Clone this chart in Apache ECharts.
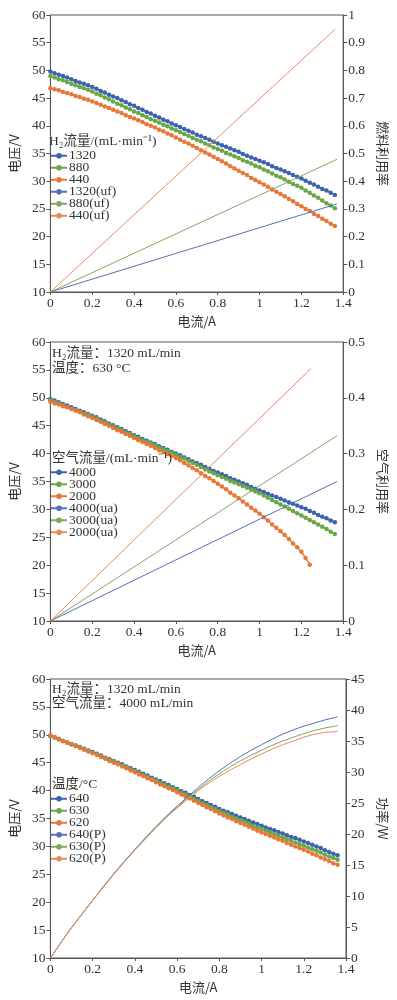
<!DOCTYPE html>
<html><head><meta charset="utf-8">
<script src="https://cdn.jsdelivr.net/npm/echarts@6/dist/echarts.min.js"></script>
<style>html,body{margin:0;padding:0;background:#fff}#c{width:397px;height:1000px}</style>
</head><body><div id="c"></div>
<script>
// currents (A) for measured voltage curves
const currents = [0,0.02,0.04,0.06,0.08,0.1,0.12,0.14,0.16,0.18,0.2,0.22,0.24,0.26,0.28,0.3,0.32,0.34,0.36,0.38,0.4,0.42,0.44,0.46,0.48,0.5,0.52,0.54,0.56,0.58,0.6,0.62,0.64,0.66,0.68,0.7,0.72,0.74,0.76,0.78,0.8,0.82,0.84,0.86,0.88,0.9,0.92,0.94,0.96,0.98,1.0,1.02,1.04,1.06,1.08,1.1,1.12,1.14,1.16,1.18,1.2,1.22,1.24,1.26,1.28,1.3,1.32,1.34,1.36];
// Panel 1: H2 flow
const v1320 = [49.8,49.5,49.2,49.0,48.7,48.4,48.1,47.8,47.6,47.3,47.0,46.7,46.3,46.0,45.6,45.3,45.0,44.6,44.3,43.9,43.6,43.2,42.9,42.5,42.2,41.8,41.5,41.1,40.8,40.4,40.1,39.8,39.4,39.1,38.8,38.4,38.1,37.8,37.5,37.1,36.8,36.5,36.2,35.9,35.6,35.3,34.9,34.6,34.3,34.0,33.7,33.4,33.1,32.7,32.4,32.1,31.8,31.5,31.1,30.8,30.5,30.1,29.7,29.4,29.0,28.6,28.3,27.9,27.5];
const v880 = [49.0,48.7,48.4,48.2,47.9,47.6,47.3,47.0,46.8,46.5,46.2,45.8,45.5,45.1,44.8,44.4,44.0,43.7,43.3,43.0,42.6,42.3,41.9,41.6,41.2,40.9,40.6,40.2,39.9,39.5,39.2,38.9,38.5,38.2,37.8,37.5,37.2,36.8,36.5,36.1,35.8,35.5,35.1,34.8,34.5,34.2,33.8,33.5,33.2,32.8,32.5,32.1,31.8,31.4,31.0,30.7,30.3,29.9,29.5,29.2,28.8,28.3,27.9,27.4,27.0,26.5,26.0,25.6,25.1];
const v440 = [46.8,46.6,46.4,46.1,45.9,45.7,45.4,45.2,44.9,44.7,44.4,44.1,43.8,43.5,43.2,42.9,42.6,42.3,41.9,41.6,41.3,41.0,40.7,40.3,40.0,39.7,39.3,39.0,38.6,38.3,37.9,37.5,37.1,36.8,36.4,36.0,35.6,35.2,34.8,34.4,34.0,33.6,33.2,32.7,32.3,31.9,31.5,31.1,30.6,30.2,29.8,29.4,29.0,28.5,28.1,27.7,27.3,26.8,26.4,25.9,25.5,25.0,24.6,24.1,23.7,23.2,22.8,22.3,21.9];
const ufX = [0, 1.37, 0, 1.37, 0, 1.36];
const uf1320 = [0, 0.318];
const uf880 = [0, 0.479];
const uf440 = [0, 0.948];
// Panel 2: air flow
const v4000 = [49.8,49.5,49.2,48.9,48.6,48.3,48.0,47.7,47.4,47.1,46.8,46.5,46.1,45.8,45.4,45.1,44.7,44.4,44.0,43.7,43.3,43.0,42.6,42.3,42.0,41.7,41.3,41.0,40.7,40.3,40.0,39.7,39.3,39.0,38.6,38.3,38.0,37.6,37.3,36.9,36.6,36.3,36.0,35.6,35.3,35.0,34.7,34.4,34.0,33.7,33.4,33.1,32.8,32.5,32.2,31.9,31.6,31.3,31.0,30.7,30.4,30.1,29.7,29.4,29.0,28.7,28.4,28.0,27.7];
const v3000 = [49.6,49.3,49.0,48.7,48.4,48.1,47.8,47.5,47.2,46.9,46.6,46.3,45.9,45.6,45.2,44.9,44.5,44.2,43.8,43.5,43.1,42.8,42.4,42.1,41.8,41.5,41.1,40.8,40.5,40.1,39.8,39.4,39.1,38.7,38.3,38.0,37.6,37.2,36.8,36.5,36.1,35.8,35.5,35.1,34.8,34.5,34.2,33.9,33.5,33.2,32.9,32.5,32.1,31.7,31.3,30.9,30.5,30.1,29.7,29.3,28.9,28.5,28.1,27.7,27.3,26.9,26.5,26.0,25.6];
const v2000 = [49.3,49.0,48.8,48.5,48.3,48.0,47.7,47.4,47.0,46.7,46.4,46.0,45.7,45.3,45.0,44.6,44.2,43.9,43.5,43.2,42.8,42.4,42.1,41.7,41.4,41.0,40.6,40.3,39.9,39.6,39.2,38.8,38.3,37.9,37.4,37.0,36.5,36.0,35.6,35.1,34.6,34.1,33.6,33.0,32.5,32.0,31.4,30.9,30.3,29.8,29.2,28.6,28.0,27.3,26.7,26.1,25.4,24.7,23.9,23.2,22.4,21.3,20.1];
const ua4000 = [0, 0.250];
const ua3000 = [0, 0.332];
const ua2000 = [0, 0.452];
const uaEnd = [1.37, 1.37, 1.245];
// Panel 3: temperature
const v640 = [49.8,49.5,49.2,48.9,48.6,48.3,48.1,47.8,47.5,47.2,46.9,46.6,46.3,45.9,45.6,45.3,45.0,44.7,44.3,44.0,43.7,43.4,43.0,42.7,42.3,42.0,41.7,41.3,41.0,40.6,40.3,39.9,39.6,39.2,38.9,38.5,38.1,37.8,37.4,37.1,36.7,36.4,36.1,35.8,35.5,35.2,34.9,34.6,34.3,34.0,33.7,33.4,33.1,32.9,32.6,32.3,32.0,31.7,31.5,31.2,30.9,30.6,30.3,30.0,29.7,29.3,29.0,28.7,28.4];
const v630 = [49.8,49.5,49.2,48.9,48.6,48.3,48.0,47.7,47.4,47.1,46.8,46.5,46.1,45.8,45.5,45.2,44.8,44.5,44.2,43.8,43.5,43.2,42.8,42.5,42.1,41.8,41.4,41.1,40.7,40.4,40.0,39.6,39.3,38.9,38.5,38.2,37.8,37.4,37.0,36.7,36.3,36.0,35.7,35.3,35.0,34.7,34.4,34.1,33.7,33.4,33.1,32.8,32.5,32.2,31.9,31.6,31.3,31.0,30.7,30.4,30.1,29.8,29.5,29.2,28.9,28.5,28.2,27.9,27.6];
const v620 = [49.9,49.6,49.3,48.9,48.6,48.3,48.0,47.7,47.3,47.0,46.7,46.4,46.0,45.7,45.3,45.0,44.7,44.3,44.0,43.6,43.3,42.9,42.6,42.2,41.9,41.5,41.1,40.8,40.4,40.1,39.7,39.3,38.9,38.6,38.2,37.8,37.4,37.0,36.7,36.3,35.9,35.6,35.2,34.9,34.5,34.2,33.9,33.5,33.2,32.8,32.5,32.2,31.9,31.6,31.3,31.0,30.6,30.3,30.0,29.7,29.4,29.1,28.7,28.4,28.0,27.7,27.4,27.0,26.7];
const currentsP = [0,0.05,0.1,0.15,0.2,0.25,0.3,0.35,0.4,0.45,0.5,0.55,0.6,0.65,0.7,0.75,0.8,0.85,0.9,0.95,1.0,1.05,1.1,1.15,1.2,1.25,1.3,1.35,1.36];
const p640 = [0,2.5,4.9,7.1,9.3,11.5,13.6,15.6,17.5,19.4,21.2,22.9,24.5,26.0,27.5,28.9,30.2,31.4,32.5,33.5,34.4,35.3,36.1,36.8,37.4,37.9,38.4,38.8,38.9];
const p630 = [0,2.5,4.9,7.1,9.3,11.4,13.5,15.5,17.4,19.3,21.1,22.8,24.3,25.8,27.2,28.5,29.7,30.8,31.8,32.7,33.5,34.3,35.0,35.6,36.2,36.7,37.1,37.4,37.5];
const p620 = [0,2.5,4.9,7.1,9.3,11.4,13.5,15.5,17.4,19.2,21.0,22.7,24.2,25.6,27.0,28.2,29.3,30.3,31.2,32.1,32.9,33.7,34.4,35.0,35.6,36.1,36.4,36.5,36.6];

const BLUE = '#3d63ad', GREEN = '#6aa846', ORANGE = '#e8773a';
const LBLUE = '#5570b5', LGREEN = '#7fa861', LORANGE = '#ea8a55';
const SERIF = '"Liberation Serif","Noto Sans CJK SC",serif';
const CJK = '"Noto Sans CJK SC","Liberation Serif",sans-serif';
const AX = '#555';

const pairs = (xs, ys) => ys.map((y, i) => [xs[i], y]);

const grids = [
  {left: 45, top: 15, width: 303, height: 277},
  {left: 45, top: 342, width: 305, height: 279},
  {left: 45, top: 679, width: 305, height: 279}
].map(g => Object.assign(g, {show: true, borderColor: AX, borderWidth: 1, backgroundColor: 'transparent'}));

function xAx(i) {
  return {type: 'value', gridIndex: i, min: 0, max: 1.4, interval: 0.2,
    name: '电流/A', nameLocation: 'middle', nameGap: 23,
    nameTextStyle: {fontFamily: CJK, fontSize: 13, color: '#333'},
    axisLine: {show: true, onZero: false, lineStyle: {color: AX}},
    axisTick: {show: true, inside: false, length: 3, lineStyle: {color: AX}},
    axisLabel: {fontFamily: SERIF, fontSize: 13.5, color: '#333', margin: 5},
    splitLine: {show: false}};
}
function yLeft(i) {
  return {type: 'value', gridIndex: i, min: 10, max: 60, interval: 5, position: 'left',
    name: '电压/V', nameLocation: 'middle', nameGap: 26, nameRotate: 90,
    nameTextStyle: {fontFamily: CJK, fontSize: 13, color: '#333'},
    axisLine: {show: true, lineStyle: {color: AX}},
    axisTick: {show: true, length: 4, lineStyle: {color: AX}},
    axisLabel: {fontFamily: SERIF, fontSize: 13.5, color: '#333', margin: 5},
    splitLine: {show: false}};
}
function yRight(i, max, interval, name) {
  return {type: 'value', gridIndex: i, min: 0, max: max, interval: interval, position: 'right',
    name: name, nameLocation: 'middle', nameGap: 30, nameRotate: -90,
    nameTextStyle: {fontFamily: CJK, fontSize: 13, color: '#333'},
    axisLine: {show: true, lineStyle: {color: AX}},
    axisTick: {show: true, length: 4, lineStyle: {color: AX}},
    axisLabel: {fontFamily: SERIF, fontSize: 13.5, color: '#333', margin: 5},
    splitLine: {show: false}};
}

function vSeries(name, xi, yi, data, color) {
  return {name, type: 'line', xAxisIndex: xi, yAxisIndex: yi, data,
    symbol: 'circle', symbolSize: 4.5, showSymbol: true,
    lineStyle: {color, width: 1.5}, itemStyle: {color}, z: 3, animation: false};
}
function lSeries(name, xi, yi, data, color) {
  return {name, type: 'line', xAxisIndex: xi, yAxisIndex: yi, data,
    symbol: 'none', showSymbol: false,
    lineStyle: {color, width: 1}, itemStyle: {color}, z: 4, animation: false};
}

const series = [
  vSeries('1320', 0, 0, pairs(currents, v1320), BLUE),
  vSeries('880', 0, 0, pairs(currents, v880), GREEN),
  vSeries('440', 0, 0, pairs(currents, v440), ORANGE),
  lSeries('1320(uf)', 0, 1, [[ufX[0], uf1320[0]], [ufX[1], uf1320[1]]], LBLUE),
  lSeries('880(uf)', 0, 1, [[ufX[2], uf880[0]], [ufX[3], uf880[1]]], LGREEN),
  lSeries('440(uf)', 0, 1, [[ufX[4], uf440[0]], [ufX[5], uf440[1]]], LORANGE),

  vSeries('4000', 1, 2, pairs(currents, v4000), BLUE),
  vSeries('3000', 1, 2, pairs(currents, v3000), GREEN),
  vSeries('2000', 1, 2, pairs(currents, v2000), ORANGE),
  lSeries('4000(ua)', 1, 3, [[0, ua4000[0]], [uaEnd[0], ua4000[1]]], LBLUE),
  lSeries('3000(ua)', 1, 3, [[0, ua3000[0]], [uaEnd[1], ua3000[1]]], LGREEN),
  lSeries('2000(ua)', 1, 3, [[0, ua2000[0]], [uaEnd[2], ua2000[1]]], LORANGE),

  vSeries('640', 2, 4, pairs(currents, v640), BLUE),
  vSeries('630', 2, 4, pairs(currents, v630), GREEN),
  vSeries('620', 2, 4, pairs(currents, v620), ORANGE),
  lSeries('640(P)', 2, 5, pairs(currentsP, p640), LBLUE),
  lSeries('630(P)', 2, 5, pairs(currentsP, p630), LGREEN),
  lSeries('620(P)', 2, 5, pairs(currentsP, p620), LORANGE)
];

function legend(names, top) {
  return {data: names, orient: 'vertical', left: 50, top: top, itemGap: -1.5,
    itemWidth: 16, itemHeight: 7, padding: 0,
    textStyle: {fontFamily: SERIF, fontSize: 13.5, color: '#333', padding: [0, 0, 0, -3]},
    selectedMode: false};
}

function txt(x, y, s) {
  return {type: 'text', left: x, top: y, z: 10,
    style: {text: s, font: '13.5px ' + SERIF, fill: '#333'}};
}

const option = {
  backgroundColor: '#fff',
  animation: false,
  grid: grids,
  xAxis: [xAx(0), xAx(1), xAx(2)],
  yAxis: [yLeft(0), yRight(0, 1, 0.1, '燃料利用率'), yLeft(1), yRight(1, 0.5, 0.1, '空气利用率'), yLeft(2), yRight(2, 45, 5, '功率/W')],
  legend: [
    legend(['1320', '880', '440', '1320(uf)', '880(uf)', '440(uf)'], 149),
    legend(['4000', '3000', '2000', '4000(ua)', '3000(ua)', '2000(ua)'], 465.5),
    legend(['640', '630', '620', '640(P)', '630(P)', '620(P)'], 792)
  ],
  graphic: [
    txt(49, 135, 'H₂流量/(mL·min⁻¹)'),
    txt(52, 347, 'H₂流量：1320 mL/min'),
    txt(52, 362, '温度：630 °C'),
    txt(52, 452, '空气流量/(mL·min⁻¹)'),
    txt(52, 683, 'H₂流量：1320 mL/min'),
    txt(52, 697, '空气流量：4000 mL/min'),
    txt(52, 778, '温度/°C')
  ],
  series
};
const chart = echarts.init(document.getElementById('c'), null, {renderer: 'canvas'});
chart.setOption(option);
</script></body></html>
